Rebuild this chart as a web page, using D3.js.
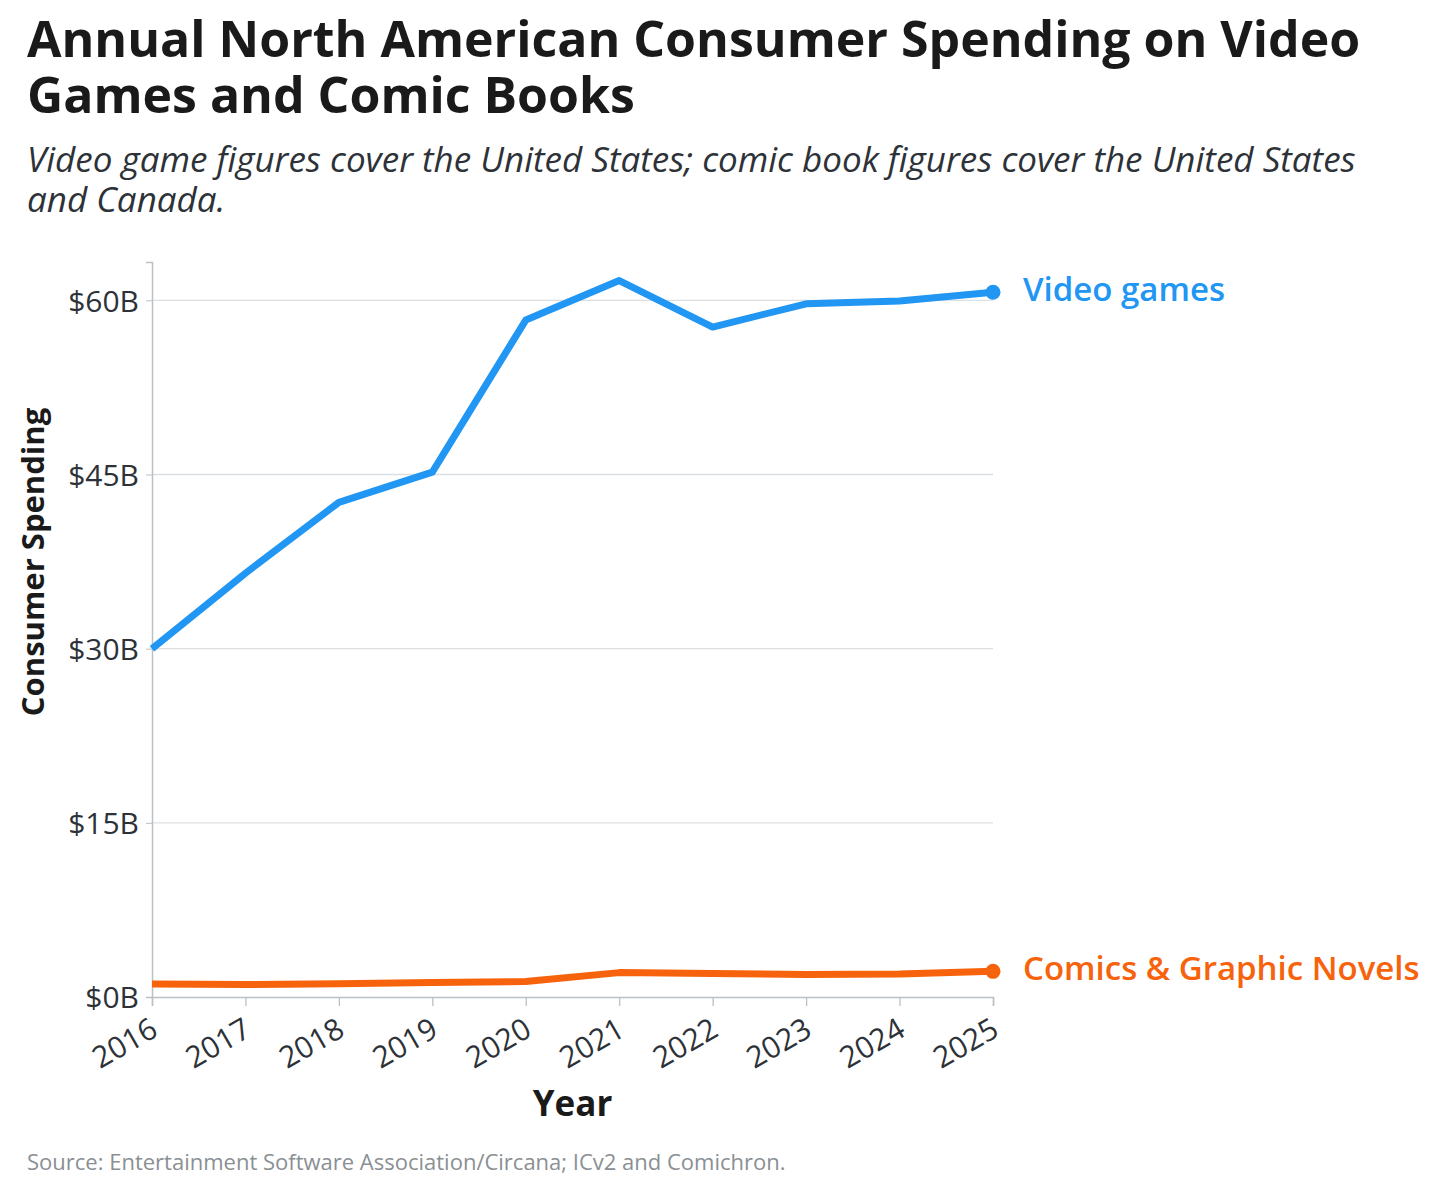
<!DOCTYPE html>
<html lang="en">
<head>
  <meta charset="UTF-8">
  <title>Consumer Spending on Video Games and Comic Books</title>
  <script src="https://d3js.org/d3.v7.min.js"></script>
  <style>
    body { margin: 0; background: #fff; }
    text { font-family: "Open Sans", sans-serif; }
  </style>
</head>
<body>
  <div id="chart"></div>
  <script>
// data (billions of USD)
const years = [2016, 2017, 2018, 2019, 2020, 2021, 2022, 2023, 2024, 2025];
const videoGames = [30.0, 36.5, 42.6, 45.2, 58.3, 61.7, 57.7, 59.7, 59.95, 60.7];
const comics = [1.12, 1.07, 1.15, 1.24, 1.33, 2.1, 2.02, 1.93, 1.98, 2.21];
const yTicks = [0, 15, 30, 45, 60];
const seriesNames = ["Video games", "Comics & Graphic Novels"];
const seriesColors = ["#2196f3", "#f7630c"];

const width = 1456, height = 1188;
const margin = { top: 262, right: 463, bottom: 191, left: 152 };

const svg = d3.select("#chart").append("svg")
  .attr("width", width)
  .attr("height", height);

// titles
const title = svg.append("text")
  .attr("x", 27).attr("y", 57)
  .attr("font-size", 50).attr("font-weight", 700)
  .attr("fill", "#1a1a1a");
title.append("tspan").attr("x", 27).text("Annual North American Consumer Spending on Video");
title.append("tspan").attr("x", 27).attr("dy", 56).text("Games and Comic Books");

const sub = svg.append("text")
  .attr("x", 27).attr("y", 172)
  .attr("font-size", 35).attr("font-style", "italic")
  .attr("fill", "#2d3238");
sub.append("tspan").attr("x", 27).text("Video game figures cover the United States; comic book figures cover the United States");
sub.append("tspan").attr("x", 27).attr("dy", 40).text("and Canada.");

const x = d3.scaleLinear()
  .domain(d3.extent(years))
  .range([margin.left, width - margin.right]);

const y = d3.scaleLinear()
  .domain([0, 63.3])
  .range([height - margin.bottom, margin.top]);

// gridlines
svg.append("g")
  .selectAll("line")
  .data(yTicks.filter(d => d > 0))
  .join("line")
  .attr("x1", x.range()[0]).attr("x2", x.range()[1])
  .attr("y1", d => y(d)).attr("y2", d => y(d))
  .attr("stroke", "#dcdfe2").attr("stroke-width", 1.3);

// y axis
const yAxis = svg.append("g")
  .attr("transform", `translate(${margin.left},0)`)
  .call(d3.axisLeft(y).tickValues(yTicks).tickSize(6).tickPadding(7).tickFormat(d => "$" + d + "B"));
yAxis.select(".domain").attr("stroke", "#b9c0c6").attr("stroke-width", 1.5);
yAxis.selectAll(".tick line").attr("stroke", "#b9c0c6");
yAxis.selectAll(".tick text")
  .attr("font-size", 30).attr("fill", "#2d3238")
  .attr("font-family", "Open Sans, sans-serif")
  .attr("dy", "0.36em");

// x axis
const xAxis = svg.append("g")
  .attr("transform", `translate(0,${height - margin.bottom})`)
  .call(d3.axisBottom(x).tickValues(years).tickSize(9).tickFormat(d3.format("d")));
xAxis.select(".domain").attr("stroke", "#b9c0c6").attr("stroke-width", 1.5);
xAxis.selectAll(".tick line").attr("stroke", "#b9c0c6").attr("stroke-width", 1.3);
xAxis.selectAll(".tick text")
  .attr("font-size", 30).attr("fill", "#2d3238")
  .attr("font-family", "Open Sans, sans-serif")
  .attr("text-anchor", "end")
  .attr("x", 0).attr("y", 0).attr("dy", 0)
  .attr("transform", "translate(7,38) rotate(-30)");

// axis titles
svg.append("text")
  .attr("x", (x.range()[0] + x.range()[1]) / 2).attr("y", 1116)
  .attr("text-anchor", "middle")
  .attr("font-size", 35).attr("font-weight", 700).attr("fill", "#1a1a1a")
  .text("Year");

svg.append("text")
  .attr("transform", `translate(44,562) rotate(-90)`)
  .attr("text-anchor", "middle")
  .attr("font-size", 31).attr("font-weight", 700).attr("fill", "#1a1a1a")
  .text("Consumer Spending");

// lines
const line = d3.line()
  .x((d, i) => x(years[i]))
  .y(d => y(d));

[videoGames, comics].forEach((vals, k) => {
  svg.append("path")
    .datum(vals)
    .attr("d", line)
    .attr("fill", "none")
    .attr("stroke", seriesColors[k])
    .attr("stroke-width", 7)
    .attr("stroke-linejoin", "round");

  const last = vals[vals.length - 1];
  svg.append("circle")
    .attr("cx", x(years[years.length - 1]))
    .attr("cy", y(last))
    .attr("r", 7.5)
    .attr("fill", seriesColors[k]);

  svg.append("text")
    .attr("x", x(years[years.length - 1]) + 30)
    .attr("y", y(last))
    .attr("dy", "0.27em")
    .attr("font-size", 33).attr("font-weight", 600)
    .attr("fill", seriesColors[k])
    .text(seriesNames[k]);
});

// source
svg.append("text")
  .attr("x", 27).attr("y", 1170)
  .attr("font-size", 22).attr("fill", "#8a8f94")
  .text("Source: Entertainment Software Association/Circana; ICv2 and Comichron.");
  </script>
</body>
</html>
